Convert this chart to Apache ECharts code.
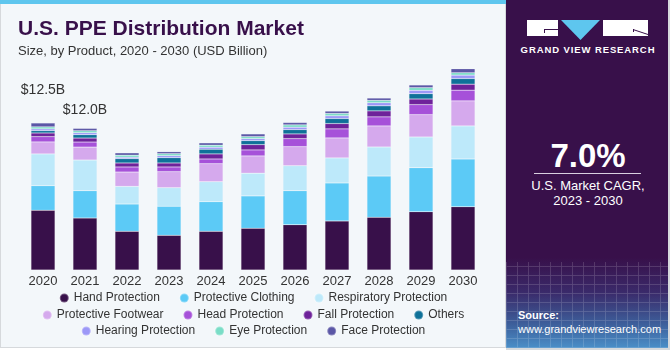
<!DOCTYPE html>
<html>
<head>
<meta charset="utf-8">
<script src="https://cdn.jsdelivr.net/npm/echarts@6/dist/echarts.min.js"></script>
<style>
  html, body { margin: 0; padding: 0; background: #ffffff; }
  #wrap { position: relative; width: 670px; height: 350px; overflow: hidden; font-family: "Liberation Sans", Arial, sans-serif; }
  #left { position: absolute; left: 0; top: 0; width: 504px; height: 347px; background: #f3f7fa; border: 1px solid #d6d9dc; border-top: none; }
  #strip { position: absolute; left: 0; top: 0; width: 506px; height: 4px; background: #5ec6ee; }
  #chart { position: absolute; left: 0; top: 0; width: 506px; height: 350px; }
  #side { position: absolute; left: 506px; top: 0; width: 162px; height: 348px; border-right: 2px solid #d6d9dc; border-bottom: 2px solid #d6d9dc;
    background: linear-gradient(to bottom, #38104a 0%, #38104a 74%, #3a2a6a 84%, #3d5e9a 93%, #4a8fc8 100%); color: #fff; text-align: center; }
  #grid { position: absolute; left: 0; top: 262px; width: 162px; height: 86px; opacity: 0.18;
    background-image: repeating-linear-gradient(90deg, rgba(255,255,255,0.8) 0 1px, transparent 1px 11px),
                      repeating-linear-gradient(0deg, rgba(255,255,255,0.8) 0 1px, transparent 1px 9px); }
  #logo { position: absolute; left: 21px; top: 20px; }
  #brand { position: absolute; left: 0; width: 164px; top: 44px; font-size: 9.5px; font-weight: bold; letter-spacing: 0.9px; color: #ffffff; }
  #cagr { position: absolute; left: 0; width: 164px; top: 139px; font-size: 33px; font-weight: bold; line-height: 33px; }
  #rule { position: absolute; left: 28px; width: 107px; top: 173px; height: 1px; background: #d8cfe0; }
  #cagrtxt { position: absolute; left: 0; width: 164px; top: 178px; font-size: 13px; line-height: 15px; }
  #source { position: absolute; left: 12px; top: 308px; text-align: left; font-size: 11px; line-height: 14px; }
</style>
</head>
<body>
<div id="wrap">
  <div id="left"></div>
  <div id="strip"></div>
  <div id="chart"></div>
  <div id="side">
    <div id="grid"></div>
    <svg id="logo" width="122" height="21" viewBox="0 0 122 21">
      <rect x="0" y="0" width="31" height="16" fill="#ffffff"/>
      <path d="M17 9 L31 9 L31 10 L18 10 L18 13 L17 13 Z" fill="#38104a"/>
      <path d="M34 0 L73 0 L53.5 20 Z" fill="#5ec6ee"/>
      <rect x="76" y="0" width="45" height="16" fill="#ffffff"/>
      <path d="M106 9 L121 14 L121 15 L106 10 Z" fill="#38104a"/>
      <rect x="106" y="9" width="1" height="3" fill="#38104a"/>
    </svg>
    <div id="brand">GRAND VIEW RESEARCH</div>
    <div id="cagr">7.0%</div>
    <div id="rule"></div>
    <div id="cagrtxt">U.S. Market CAGR,<br>2023 - 2030</div>
    <div id="source"><b>Source:</b><br>www.grandviewresearch.com</div>
  </div>
</div>
<script>
var years = ['2020', '2021', '2022', '2023', '2024', '2025', '2026', '2027', '2028', '2029', '2030'];

var hand        = [5.08, 4.42, 3.29, 2.95, 3.29, 3.55, 3.85, 4.17, 4.48, 4.96, 5.38];
var clothing    = [2.09, 2.32, 2.32, 2.47, 2.52, 2.75, 2.89, 3.23, 3.51, 3.74, 4.06];
var respiratory = [2.70, 2.61, 1.50, 1.58, 1.70, 1.93, 2.13, 2.13, 2.47, 2.61, 2.81];
var footwear    = [1.02, 1.10, 1.22, 1.36, 1.53, 1.47, 1.62, 1.70, 1.79, 1.90, 2.13];
var head        = [0.45, 0.43, 0.43, 0.40, 0.40, 0.51, 0.68, 0.77, 0.77, 0.85, 0.91];
var fall        = [0.31, 0.34, 0.34, 0.34, 0.43, 0.45, 0.40, 0.45, 0.51, 0.48, 0.51];
var others      = [0.20, 0.28, 0.37, 0.45, 0.40, 0.34, 0.37, 0.43, 0.43, 0.45, 0.48];
var hearing     = [0.15, 0.17, 0.12, 0.17, 0.17, 0.17, 0.20, 0.23, 0.26, 0.29, 0.29];
var eye         = [0.17, 0.17, 0.17, 0.17, 0.17, 0.17, 0.20, 0.20, 0.20, 0.22, 0.20];
var face        = [0.33, 0.20, 0.20, 0.17, 0.20, 0.23, 0.20, 0.20, 0.20, 0.23, 0.34];

// labels shown above the first two bars
var totalLabels = ['$12.5B', '$12.0B'];
var labelDistance = [26, 11];

var seriesNames = ['Hand Protection', 'Protective Clothing', 'Respiratory Protection',
  'Protective Footwear', 'Head Protection', 'Fall Protection', 'Others',
  'Hearing Protection', 'Eye Protection', 'Face Protection'];
var seriesData = [hand, clothing, respiratory, footwear, head, fall, others, hearing, eye, face];
var colors = ['#38104a', '#5ccaf6', '#bde9fa', '#d5a9ed', '#a651d9', '#6e229a',
  '#0f7199', '#9c98f7', '#7addc7', '#5b57a6'];

var legendRows = [seriesNames.slice(0, 3), seriesNames.slice(3, 7), seriesNames.slice(7)];
var legendTops = [287, 304, 320];

var chart = echarts.init(document.getElementById('chart'));

var series = seriesData.map(function (values, i) {
  var data = values.slice();
  if (i === seriesData.length - 1) {
    data = values.map(function (v, j) {
      if (j < totalLabels.length) {
        return {
          value: v,
          label: {
            show: true,
            position: 'top',
            distance: labelDistance[j],
            formatter: totalLabels[j],
            color: '#333333',
            fontSize: 14,
            fontFamily: 'Liberation Sans'
          }
        };
      }
      return v;
    });
  }
  return {
    name: seriesNames[i],
    type: 'bar',
    stack: 'total',
    barWidth: 24,
    data: data,
    itemStyle: {
      color: colors[i],
      borderColor: 'rgba(255,255,255,0.3)',
      borderWidth: 0.5
    },
    emphasis: { disabled: true },
    animation: false
  };
});

chart.setOption({
  backgroundColor: 'transparent',
  color: colors,
  title: {
    text: 'U.S. PPE Distribution Market',
    subtext: 'Size, by Product, 2020 - 2030 (USD Billion)',
    left: 13,
    top: 14,
    itemGap: 5,
    textStyle: {
      color: '#38104a',
      fontSize: 21,
      fontWeight: 'bold',
      fontFamily: 'Liberation Sans'
    },
    subtextStyle: {
      color: '#333333',
      fontSize: 13,
      fontFamily: 'Liberation Sans'
    }
  },
  legend: legendRows.map(function (row, k) {
    return {
      data: row,
      left: 'center',
      top: legendTops[k],
      icon: 'circle',
      itemWidth: 9,
      itemHeight: 9,
      itemGap: 19,
      selectedMode: false,
      textStyle: {
        color: '#333333',
        fontSize: 12,
        fontFamily: 'Liberation Sans'
      }
    };
  }),
  grid: {
    left: 22,
    right: 22,
    top: 58.3,
    bottom: 80
  },
  xAxis: {
    type: 'category',
    data: years,
    axisLine: { show: false },
    axisTick: { show: false },
    axisLabel: {
      color: '#333333',
      fontSize: 13,
      margin: 5,
      fontFamily: 'Liberation Sans'
    }
  },
  yAxis: {
    type: 'value',
    min: 0,
    max: 18,
    show: false
  },
  series: series
});
</script>
</body>
</html>
